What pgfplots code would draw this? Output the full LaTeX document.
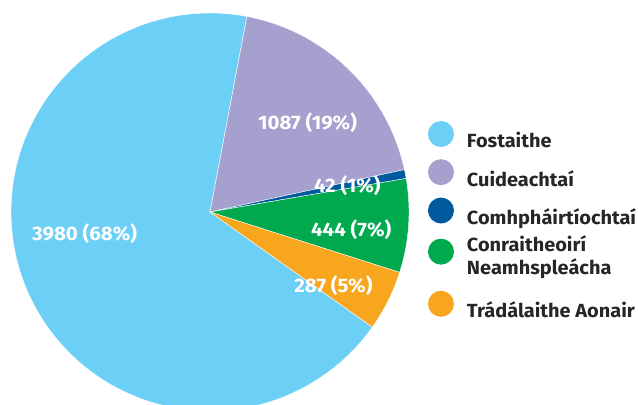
\documentclass[border=0pt]{standalone}
\usepackage{fontspec}
\setmainfont{Fira Sans}[FakeStretch=1.05]
\usepackage{pgfplots}
\pgfplotsset{compat=1.18}
\definecolor{cfost}{RGB}{108,207,246}
\definecolor{ccuid}{RGB}{166,160,206}
\definecolor{ccomh}{RGB}{0,91,158}
\definecolor{cconr}{RGB}{0,168,78}
\definecolor{ctrad}{RGB}{247,166,30}
\newcommand\lblfont{\fontsize{19bp}{23bp}\selectfont\bfseries}
\newcommand\piefont{\fontsize{19.5bp}{23bp}\selectfont\bfseries}
\begin{document}
\begin{tikzpicture}
\useasboundingbox (0,0) rectangle (638bp,405bp);
% values
\def\vCuid{1087}
\def\vComh{42}
\def\vConr{444}
\def\vTrad{287}
\def\vFost{3980}
\pgfmathsetmacro\total{\vCuid+\vComh+\vConr+\vTrad+\vFost}
\pgfmathsetmacro\aA{79.3}
\pgfmathsetmacro\aB{\aA-360*(\vCuid/\total)}
\pgfmathsetmacro\aC{\aB-360*(\vComh/\total)}
\pgfmathsetmacro\aD{\aC-360*(\vConr/\total)}
\pgfmathsetmacro\aE{\aD-360*(\vTrad/\total)}
\pgfmathsetmacro\aF{\aE-360*(\vFost/\total)}
\begin{axis}[
  at={(210bp,193bp)}, anchor=center,
  scale only axis, width=398bp, height=398bp,
  xmin=-1, xmax=1, ymin=-1, ymax=1,
  hide axis, clip=false,
  legend cell align=left,
  legend image code/.code={\fill[#1,draw=none] (13bp,6.7bp) circle (13bp);},
  legend style={draw=none, fill=none, inner sep=0pt, outer sep=0pt,
    at={(1.0477,0.7286)}, anchor=north west,
    row sep=10bp, font=\lblfont, text=black!85,
    nodes={inner sep=0pt},
    /tikz/every odd column/.append style={column sep=13bp}},
]
\addplot[fill=cfost, draw=white, line width=0.4bp, domain=\aF:\aE, samples=200, variable=\t] ({cos(\t)},{sin(\t)}) -- (axis cs:0,0) -- cycle;
\addlegendentry{Fostaithe}
\addplot[fill=ccuid, draw=white, line width=0.4bp, domain=\aB:\aA, samples=80, variable=\t] ({cos(\t)},{sin(\t)}) -- (axis cs:0,0) -- cycle;
\addlegendentry{Cuideachtaí}
\addplot[fill=ccomh, draw=white, line width=0.4bp, domain=\aC:\aB, samples=10, variable=\t] ({cos(\t)},{sin(\t)}) -- (axis cs:0,0) -- cycle;
\addlegendentry{Comhpháirtíochtaí}
\addplot[fill=cconr, draw=white, line width=0.4bp, domain=\aD:\aC, samples=40, variable=\t] ({cos(\t)},{sin(\t)}) -- (axis cs:0,0) -- cycle;
\addlegendentry[text depth=29bp]{{\parbox[t]{6cm}{\lblfont Conraitheoirí\\Neamhspleácha}}}
\addplot[fill=ctrad, draw=white, line width=0.4bp, domain=\aE:\aD, samples=30, variable=\t] ({cos(\t)},{sin(\t)}) -- (axis cs:0,0) -- cycle;
\addlegendentry{Trádálaithe Aonair}
\node[white, font=\piefont] at (axis cs:0.49,0.45) {1087 (19\%)};
\node[white, font=\piefont] at (axis cs:0.69,0.13) {42 (1\%)};
\node[white, font=\piefont] at (axis cs:0.71,-0.09) {444 (7\%)};
\node[white, font=\piefont] at (axis cs:0.62,-0.37) {287 (5\%)};
\node[white, font=\piefont] at (axis cs:-0.63,-0.11) {3980 (68\%)};
\end{axis}
\end{tikzpicture}
\end{document}
